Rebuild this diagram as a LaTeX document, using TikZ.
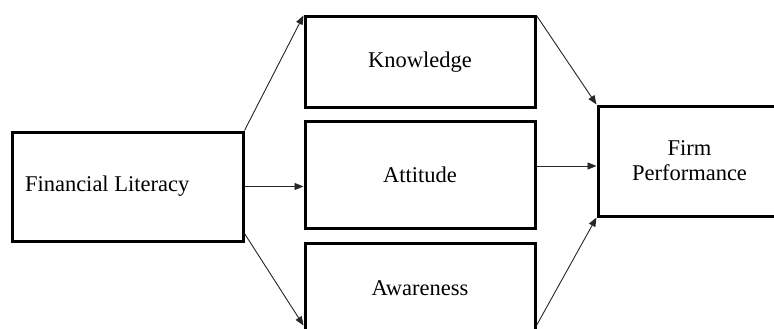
\documentclass[tikz,border=0pt]{standalone}
\usepackage{fontspec}
\setmainfont{Liberation Serif}
\usetikzlibrary{arrows.meta,calc}
\begin{document}
\begin{tikzpicture}[x=1pt,y=-1pt,
  box/.style={draw=black,line width=3pt,rectangle,inner sep=0pt,
    font=\fontsize{22.5}{25}\selectfont,align=center},
  conn/.style={draw=black!85,line width=0.9pt,-{Triangle[length=9pt,width=7pt]}}]
\useasboundingbox (0,0) rectangle (774,329);
\clip (0,0) rectangle (774,329);
\fill[white] (0,0) rectangle (774,329);
\node[box,minimum width=231pt,minimum height=109pt] (FL) at (127.5,186.5) {\makebox[205pt][l]{Financial Literacy}};
\node[box,minimum width=230pt,minimum height=90pt] (K) at (420,62) {Knowledge};
\node[box,minimum width=230pt,minimum height=107pt] (A) at (420,174.5) {Attitude};
\node[box,minimum width=230pt,minimum height=90pt] (W) at (420,288) {Awareness};
\node[box,minimum width=183pt,minimum height=110pt] (FP) at (689.5,161) {Firm\\Performance};
\draw[conn] (FL.north east) -- (K.north west);
\draw[conn] (FL.east) -- (FL.east -| A.west);
\draw[conn] ([yshift=9pt]FL.south east) -- ([yshift=-84pt]W.north west);
\draw[conn] (K.north east) -- (FP.north west);
\draw[conn] ([yshift=8.5pt]A.east) -- ([yshift=8.5pt]A.east -| FP.west);
\draw[conn] ([yshift=-84pt]W.north east) -- (FP.south west);
\end{tikzpicture}
\end{document}
